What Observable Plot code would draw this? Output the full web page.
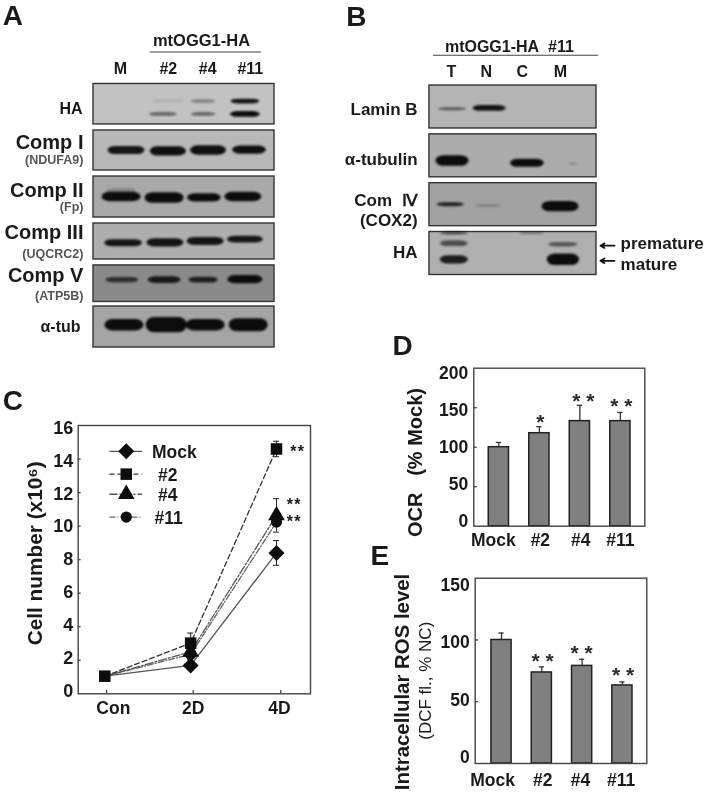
<!DOCTYPE html>
<html><head><meta charset="utf-8">
<script src="https://cdn.jsdelivr.net/npm/d3@7"></script>
<script src="https://cdn.jsdelivr.net/npm/@observablehq/plot@0.6"></script>
<style>
html,body{margin:0;padding:0;background:#fff}
#page{position:relative;width:709px;height:797px;overflow:hidden}
#page svg{position:absolute;filter:blur(.4px)}
</style></head><body><div id="page"></div>
<script>
// ---------- Panel A: blot read-outs ----------
const lanesA = ["M", "#2", "#4", "#11"];
const blotsA = ["HA", "Comp I", "Comp II", "Comp III", "Comp V", "α-tub"];
const subLabelsA = ["(NDUFA9)", "(Fp)", "(UQCRC2)", "(ATP5B)"];
const densHA = [0.12, 0.35, 0.95, 0.5, 0.5, 1];
const densCompI = [0.95, 0.98, 0.98, 0.98];
const densCompII = [0.2, 1, 1, 1, 1];
const densCompIII = [0.95, 0.95, 0.95, 0.95];
const densCompV = [0.75, 0.9, 0.85, 1];
const densTubA = [1, 1, 1, 1];
// ---------- Panel B ----------
const lanesB = ["T", "N", "C", "M"];
const densLamin = [0.55, 0.95];
const densTubB = [1, 1, 0.25];
const densCox = [0.85, 0.25, 1];
const densHAB = [0.7, 0.6, 0.9, 0.5, 0.55, 1];
// ---------- Panel C ----------
const days = ["Con", "2D", "4D"];
const mock = [1.05, 1.69, 8.4];
const mockErr = [0, 0.25, 0.74];
const n2 = [1.05, 3.02, 14.6];
const n2Err = [0, 0.6, 0.46];
const n4 = [1.05, 2.5, 10.64];
const n4Err = [0, 0.3, 1.0];
const n11 = [1.05, 2.35, 10.24];
const n11Err = [0, 0.3, 0.2];
const cellTicks = [0, 2, 4, 6, 8, 10, 12, 14, 16];
// ---------- Panel D ----------
const clones = ["Mock", "#2", "#4", "#11"];
const ocr = [100, 117.7, 133, 133];
const ocrTop = [106, 126, 153, 144];
const ocrStars = ["", "*", "* *", "* *"];
const ocrTicks = [0, 50, 100, 150, 200];
// ---------- Panel E ----------
const ros = [100, 73.7, 79, 63.2];
const rosTop = [105.6, 78.2, 84.4, 66];
const rosStars = ["", "* *", "* *", "* *"];
const rosTicks = [0, 50, 100, 150];

const font = "'Liberation Sans', Arial, sans-serif";
const ink = "#1a1a1a";
const page = document.getElementById("page");
function place(svg, left, top) { svg.style.left = left + "px"; svg.style.top = top + "px"; page.appendChild(svg); }
const baseStyle = {fontFamily: font, background: "transparent", overflow: "visible"};

function zip(layout, dens, centers) { return layout.map((g, i) => ({blot: centers[g[0]], lane: g[1], drift: g[2], w: g[3], t: g[4] * 1.18, d: dens[i]})); }
const bandMarks = bands => Plot.rect(bands, {
  x1: d => d.lane - d.w / 2, x2: d => d.lane + d.w / 2,
  y1: d => d.blot + d.drift - d.t / 2, y2: d => d.blot + d.drift + d.t / 2,
  fill: "#0c0c0c", fillOpacity: "d", rx: 8, ry: 20, imageFilter: "blur(0.8px)"
});
const txt = (s, x, y, size, o = {}) => Plot.text([s], {x: () => x, y: () => y, text: d => d, fontSize: size, fontWeight: "bold", fill: ink, ...o});

// ===== Panel A =====
{
  const layout = [
    [0,1.02,-.06,.73,.05],[0,1.88,-.06,.6,.07],[0,2.9,-.06,.7,.09],[0,.9,.23,.68,.07],[0,1.88,.23,.6,.07],[0,2.9,.23,.73,.11],
    [1,0,0,.9,.155],[1,1.02,.02,.88,.18],[1,2,0,.88,.18],[1,3,-.01,.82,.155],
    [2,-.12,-.14,.7,.1],[2,-.12,0,.95,.18],[2,.93,.02,.95,.2],[2,1.9,.02,.82,.155],[2,2.85,0,.9,.18],
    [3,-.07,.04,.92,.13],[3,.95,.03,.9,.155],[3,1.93,0,.9,.155],[3,2.9,-.04,.87,.13],
    [4,-.1,-.08,.8,.1],[4,.93,-.08,.8,.13],[4,1.88,-.08,.72,.11],[4,2.9,-.09,.85,.155],
    [5,-.05,-.04,.95,.22],[5,.98,-.04,1,.29],[5,1.93,-.04,.95,.22],[5,2.98,-.04,.95,.25]
  ];
  const dens = [...densHA, ...densCompI, ...densCompII, ...densCompIII, ...densCompV, ...densTubA];
  const bgA = ["#c2c2c2", "#b8b8b8", "#a9a9a9", "#aeaeae", "#8a8a8a", "#a5a5a5"];
  const halfA = [.454, .449, .46, .404, .41, .46];
  const blotY = [0, 1.039, 2.083, 3.081, 4.028, 5];
  const frames = blotsA.map((b, i) => ({y: blotY[i], bg: bgA[i], h: halfA[i]}));
  const laneX = [-.15, 1.02, 1.98, 3.02];
  const bigY = [[1, -.17], [2, -.14], [3, -.19], [4, -.19]];
  const subY = [.22, .23, .28, .27];
  place(Plot.plot({
    width: 340, height: 370, margin: 0, style: baseStyle,
    x: {domain: [0, 3], range: [126, 249], axis: null},
    y: {domain: [0, 5], range: [103.7, 326.5], axis: null},
    opacity: {domain: [0, 1], range: [0, 1]},
    marks: [
      Plot.rect(frames, {x1: () => -.805, x2: () => 3.61, y1: d => d.y - d.h, y2: d => d.y + d.h, fill: "bg", stroke: "#333", strokeWidth: 1.4}),
      bandMarks(zip(layout, dens, blotY)),
      txt("A", -2.77, -1.98, 28),
      txt("mtOGG1-HA", 1.83, -1.43, 16.5),
      Plot.ruleY([-1.171], {x1: () => .58, x2: () => 3.29, stroke: "#444", strokeWidth: 1.2}),
      Plot.text(lanesA, {x: (d, i) => laneX[i], y: () => -.8, text: d => d, fontSize: 16, fontWeight: "bold", fill: ink}),
      txt(blotsA[0], -1.07, .1, 16, {textAnchor: "end"}),
      ...bigY.map(([b, dy], i) => txt(blotsA[b], -1.05, blotY[b] + dy, 20, {textAnchor: "end"})),
      ...subLabelsA.map((s, i) => txt(s, -1.05, blotY[i + 1] + subY[i], 12.5, {textAnchor: "end", fill: "#555"})),
      txt(blotsA[5], -1.12, 5, 16, {textAnchor: "end"})
    ]
  }), 0, 0);
}

// ===== Panel B =====
{
  const layout = [
    [0,0,.045,.78,.05],[0,1.03,.03,.92,.1],
    [1,0,.105,.92,.18],[1,2.08,.153,.94,.14],[1,3.36,.17,.22,.04],
    [2,-.05,0,.75,.07],[2,1,.03,.7,.04],[2,3,.04,1.03,.18],
    [3,.05,-.41,.78,.04],[3,.05,-.2,.78,.1],[3,.05,.13,.78,.14],[3,2.2,-.41,.7,.03],[3,3.08,-.18,.8,.08],[3,3.08,.13,.9,.2]
  ];
  const dens = [...densLamin, ...densTubB, ...densCox, ...densHAB];
  const bgB = ["#b4b4b4", "#acacac", "#a2a2a2", "#b0b0b0"];
  const frames = bgB.map((bg, i) => ({i, bg}));
  const laneX = [-.03, .94, 1.94, 3];
  const side = (s, y) => txt(s, -.97, y, 17, {textAnchor: "end"});
  place(Plot.plot({
    width: 369, height: 300, margin: 0, style: baseStyle,
    x: {domain: [0, 3], range: [112, 220], axis: null},
    y: {domain: [0, 3], range: [106.5, 253], axis: null},
    opacity: {domain: [0, 1], range: [0, 1]},
    marks: [
      Plot.rect(frames, {x1: () => -.64, x2: () => 4, y1: d => d.i - .44, y2: d => d.i + .44, fill: "bg", stroke: "#333", strokeWidth: 1.4}),
      bandMarks(zip(layout, dens, [0, 1, 2, 3])),
      txt("B", -2.67, -1.85, 28),
      txt("mtOGG1-HA\u00a0\u00a0#11", 1.58, -1.235, 16),
      Plot.ruleY([-1.06], {x1: () => -.53, x2: () => 4.06, stroke: "#444", strokeWidth: 1.2}),
      Plot.text(lanesB, {x: (d, i) => laneX[i], y: () => -.72, text: d => d, fontSize: 16, fontWeight: "bold", fill: ink}),
      side("Lamin B", .05), side("α-tubulin", 1.07), side("Com \u00a0Ⅳ", 1.91), side("(COX2)", 2.33), side("HA", 2.98),
      Plot.arrow([2.84, 3.15], {x1: () => 4.5, x2: () => 4.11, y1: d => d, y2: d => d, stroke: "#111", strokeWidth: 1.8, headLength: 7}),
      txt("premature", 4.67, 2.79, 17, {textAnchor: "start"}),
      txt("mature", 4.67, 3.22, 17, {textAnchor: "start"})
    ]
  }), 340, 0);
}

// ===== Panel C =====
{
  const series = [
    {name: "Mock", v: mock, e: mockErr, symbol: "diamond2", r: 7.2, dash: "none", stroke: "#555", ly: 14.46, lx: .55},
    {name: "#11", v: n11, e: n11Err, symbol: "circle", r: 5.6, dash: "6,2,1,2", stroke: "#666", ly: 10.54, lx: .58},
    {name: "#4", v: n4, e: n4Err, symbol: "triangle", r: 6.2, dash: "8,2,2,2", stroke: "#555", ly: 11.9, lx: .62},
    {name: "#2", v: n2, e: n2Err, symbol: "square", r: 6.5, dash: "5,3", stroke: "#333", ly: 13.1, lx: .62}
  ];
  const rows = s => s.v.map((y, i) => ({x: i, y, e: s.e[i]}));
  const left = -.31;
  const marks = [Plot.frame({stroke: "#444", strokeWidth: 1.4})];
  for (const s of series) {
    const r = rows(s);
    marks.push(
      Plot.line(r, {x: "x", y: "y", stroke: s.stroke, strokeWidth: 1.3, strokeDasharray: s.dash}),
      Plot.ruleX(r.filter(d => d.e), {x: "x", y1: d => d.y - d.e, y2: d => d.y + d.e, stroke: "#333", strokeWidth: 1.1}),
      Plot.ruleY(r.filter(d => d.e).flatMap(d => [d.y - d.e, d.y + d.e].map(y => ({x: d.x, y}))), {y: "y", x1: d => d.x - .035, x2: d => d.x + .035, stroke: "#333", strokeWidth: 1.1})
    );
  }
  for (const s of series) {
    // at "Con" all clones coincide and only the square of #2 shows
    const shown = s.name === "#2" ? rows(s) : rows(s).slice(1);
    marks.push(
      Plot.dot(shown, {x: "x", y: "y", symbol: () => s.symbol, r: s.r, fill: "#0d0d0d", stroke: "none"}),
      Plot.ruleY([s.ly], {x1: () => .06, x2: () => .44, stroke: s.stroke, strokeWidth: 1.3, strokeDasharray: s.dash}),
      Plot.dot([s.ly], {x: () => .25, y: d => d, symbol: () => s.symbol, r: s.r, fill: "#0d0d0d", stroke: "none"}),
      txt(s.name, s.lx, s.ly - .05, 17.5, {textAnchor: "start"})
    );
  }
  place(Plot.plot({
    width: 345, height: 340, marginLeft: 77.7, marginRight: 35, marginTop: 45, marginBottom: 26.7, style: baseStyle,
    x: {type: "linear", domain: [0, 2], range: [104.3, 276], axis: null},
    y: {domain: [0, 16], range: [313.3, 45], axis: null},
    symbol: {type: "identity"},
    marks: [
      ...marks,
      Plot.ruleY(cellTicks.slice(1, -1), {x1: () => left, x2: () => left + .035, stroke: "#444", strokeWidth: 1.3}),
      Plot.ruleX([.02, 1.03, 2.05], {y1: 0, y2: .2, stroke: "#444", strokeWidth: 1.3}),
      Plot.text(cellTicks, {x: () => -.368, y: d => .17 + d * .98, text: d => String(d), textAnchor: "end", fontSize: 18, fontWeight: "bold", fill: ink}),
      Plot.text(days, {x: (d, i) => [.1, 1.03, 2.035][i], y: () => -.87, text: d => d, fontSize: 17.5, fontWeight: "bold", fill: ink}),
      txt("Cell number (x10⁶)", -.81, 8.38, 20.8, {rotate: -90}),
      txt("C", -1.07, 17.46, 28),
      Plot.text(["*\u200a*", "*\u200a*", "*\u200a*"], {x: (d, i) => [2.24, 2.2, 2.2][i], y: (d, i) => [14.65, 11.5, 10.5][i], dy: 4, text: d => d, fontSize: 16, fontWeight: "bold", fill: ink})
    ]
  }), 0, 380);
}

// ===== Bar panels D and E =====
function barPanel({values, tops, stars, starY, starDx, labelDx, labelY, ticks, yMax, tickMap, geom, extra}) {
  const data = clones.map((c, i) => ({c, v: values[i], top: tops[i]}));
  const frameWidth = geom.width - geom.marginLeft - geom.marginRight;
  return Plot.plot({
    ...geom, style: baseStyle,
    x: {type: "band", domain: clones, padding: .5, round: false, range: geom.xRange, axis: null},
    y: {domain: [0, yMax], axis: null},
    marks: [
      Plot.barY(data, {x: "c", y: "v", fill: "#808080", stroke: "#222", strokeWidth: 1.5}),
      Plot.ruleX(data, {x: "c", y1: "v", y2: "top", stroke: "#333", strokeWidth: 1.3}),
      Plot.tickY(data, {x: "c", y: "top", insetLeft: 7.5, insetRight: 7.5, stroke: "#333", strokeWidth: 1.3}),
      Plot.frame({stroke: "#444", strokeWidth: 1.4}),
      Plot.tickY(ticks.slice(1, -1), {y: d => d, insetRight: frameWidth - 3.5, stroke: "#444", strokeWidth: 1.3}),
      ...stars.map((s, i) => Plot.text([s], {x: () => clones[i], y: () => starY[i], dx: starDx[i], dy: 5, text: d => d, fontSize: 21, fontWeight: "bold", fill: "#2a2a2a"})),
      ...clones.map((c, i) => Plot.text([c], {x: () => c, y: () => labelY, dx: labelDx[i], text: d => d, fontSize: 17.5, fontWeight: "bold", fill: ink})),
      Plot.text(ticks, {frameAnchor: "left", y: tickMap, dx: -5.5, text: d => String(d), textAnchor: "end", fontSize: 17.5, fontWeight: "bold", fill: ink}),
      ...extra
    ]
  });
}
const yText = (s, yv, dx, size, weight = "bold") => Plot.text([s], {frameAnchor: "left", textAnchor: "middle", y: () => yv, dx, rotate: -90, text: d => d, fontSize: size, fontWeight: weight, fill: ink});
const letter = (s, yv, dx) => Plot.text([s], {frameAnchor: "left", y: () => yv, dx, text: d => d, fontSize: 28, fontWeight: "bold", fill: ink});

place(barPanel({
  values: ocr, tops: ocrTop, stars: ocrStars, starY: [0, 137.6, 165, 158], starDx: [0, 1, 3.5, 1],
  labelDx: [-5.6, 1, .8, 0], labelY: -18, ticks: ocrTicks, yMax: 200, tickMap: d => 6.3 + d * .935,
  geom: {width: 349, height: 220, marginLeft: 113.3, marginRight: 64.7, marginTop: 37.7, marginBottom: 24.3, xRange: [108, 290.25]},
  extra: [yText("OCR\u00a0\u00a0\u00a0(% Mock)", 80.6, -58, 20), letter("D", 228, -81.3)]
}), 360, 330);

place(barPanel({
  values: ros, tops: rosTop, stars: rosStars, starY: [0, 86.9, 93, 75.3], starDx: [0, .7, -.6, .7],
  labelDx: [-9, 1, -1.6, -1.3], labelY: -13.4, ticks: rosTicks, yMax: 150, tickMap: d => 5.1 + d * .926,
  geom: {width: 349, height: 257, marginLeft: 114.7, marginRight: 62.7, marginTop: 37.7, marginBottom: 34, xRange: [110.8, 292.15]},
  extra: [yText("Intracellular ROS level", 66, -73, 20.4), yText("(DCF fl., % NC)", 67, -49.7, 17, "normal"), letter("E", 168, -104.7)]
}), 360, 540);
</script></body></html>
